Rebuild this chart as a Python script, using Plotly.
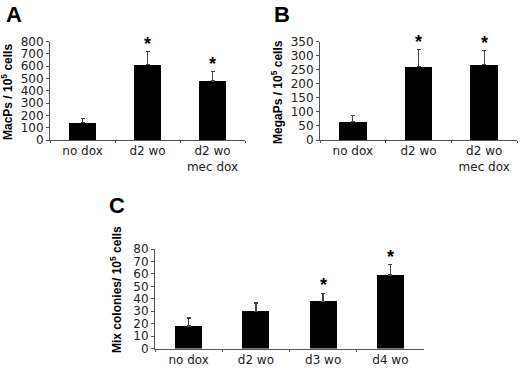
import plotly.graph_objects as go

# Panel A
cats_a = ["no dox", "d2 wo", "d2 wo<br>mec dox"]
vals_a = [140, 615, 480]
errs_a = [35, 105, 75]
sig_a = ["", "*", "*"]

# Panel B
cats_b = ["no dox", "d2 wo", "d2 wo<br>mec dox"]
vals_b = [65, 262, 268]
errs_b = [22, 60, 50]
sig_b = ["", "*", "*"]

# Panel C
cats_c = ["no dox", "d2 wo", "d3 wo", "d4 wo"]
vals_c = [18, 30, 38, 59]
errs_c = [6.5, 6.5, 6.3, 8.5]
sig_c = ["", "", "*", "*"]

W, H = 520, 368
def px_x(a, b):
    return [a / W, b / W]
def px_y(top, bottom):
    return [1 - bottom / H, 1 - top / H]

FONT = "Arial, Liberation Sans, sans-serif"
TFONT = "DejaVu Sans, sans-serif"
fig = go.Figure()

panels = [
    (cats_a, vals_a, errs_a, sig_a, "x", "y", 0.42),
    (cats_b, vals_b, errs_b, sig_b, "x2", "y2", 0.42),
    (cats_c, vals_c, errs_c, sig_c, "x3", "y3", 0.40),
]
for cats, vals, errs, sig, xa, ya, bw in panels:
    fig.add_trace(go.Bar(
        x=cats, y=vals, xaxis=xa, yaxis=ya, width=bw,
        marker=dict(color="black", line=dict(width=0)),
        error_y=dict(type="data", symmetric=False, array=errs,
                     arrayminus=[0] * len(errs), color="#444",
                     thickness=1.3, width=2),
        showlegend=False, hoverinfo="skip",
    ))
    for c, v, e, s in zip(cats, vals, errs, sig):
        if s:
            fig.add_annotation(x=c, y=v + e, xref=xa, yref=ya, text=f"<b>{s}</b>",
                               showarrow=False, yanchor="bottom", yshift=-4,
                               font=dict(family=FONT, size=18, color="black"))

xcommon = dict(showline=True, linecolor="#555", linewidth=1, ticks="outside",
               tickson="boundaries", ticklen=2, tickcolor="#555",
               tickfont=dict(family=TFONT, size=12, color="#222"),
               showgrid=False, zeroline=False, fixedrange=True, automargin=False)
ycommon = dict(showline=True, linecolor="#555", linewidth=1, ticks="outside",
               ticklen=3, tickcolor="#555",
               tickfont=dict(family=TFONT, size=12, color="#222"),
               showgrid=False, zeroline=False, fixedrange=True, automargin=False)

fig.update_layout(
    width=W, height=H, margin=dict(l=0, r=0, t=0, b=0, autoexpand=False),
    paper_bgcolor="white", plot_bgcolor="white", bargap=0,
    xaxis=dict(domain=px_x(50, 245), anchor="y", **xcommon),
    yaxis=dict(domain=px_y(41.7, 140), anchor="x", range=[0, 800], dtick=100, **ycommon),
    xaxis2=dict(domain=px_x(320, 517), anchor="y2", **xcommon),
    yaxis2=dict(domain=px_y(41.7, 140), anchor="x2", range=[0, 350], dtick=50, **ycommon),
    xaxis3=dict(domain=px_x(155, 424), anchor="y3", **xcommon),
    yaxis3=dict(domain=px_y(249, 348.5), anchor="x3", range=[0, 80], dtick=10, **ycommon),
)

ann = [
    ("A", 4, 14), ("B", 272, 14), ("C", 107, 205),
]
for t, x, y in ann:
    fig.add_annotation(text=f"<b>{t}</b>", x=x / W, y=1 - y / H, xref="paper", yref="paper",
                       xanchor="left", yanchor="middle", showarrow=False,
                       font=dict(family=FONT, size=22, color="black"))

titles = [
    ("MacPs / 10<sup>5</sup> cells", 7, 92),
    ("MegaPs / 10<sup>5</sup> cells", 277, 92),
    ("Mix colonies/ 10<sup>5</sup> cells", 116, 290),
]
for t, x, y in titles:
    fig.add_annotation(text=f"<b>{t}</b>", x=x / W, y=1 - y / H, xref="paper", yref="paper",
                       xanchor="center", yanchor="middle", textangle=-90, showarrow=False,
                       font=dict(family=FONT, size=12, color="black"))

fig.write_html("out.html", config={"displayModeBar": False},
               post_script="document.body.style.margin='0';document.body.style.overflow='hidden';")
